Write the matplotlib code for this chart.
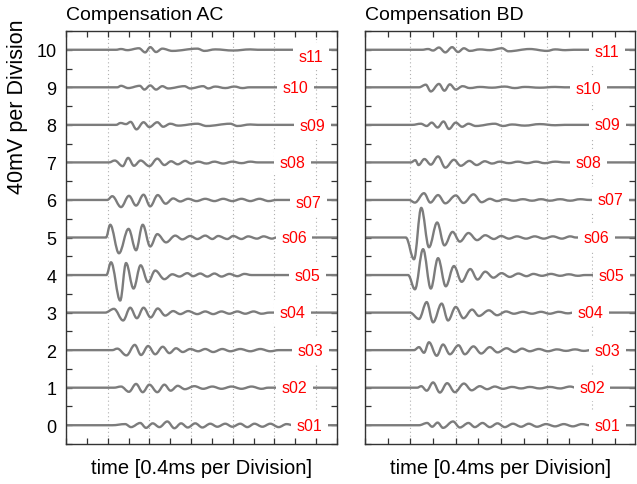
import matplotlib
matplotlib.use('Agg')
import matplotlib.pyplot as plt
from matplotlib.path import Path
from matplotlib.patches import PathPatch
from matplotlib.ticker import MultipleLocator

plt.rcParams['font.family'] = ['Liberation Sans', 'DejaVu Sans']

# turning points of each trace: time in divisions, amplitude in divisions (relative to the trace offset)
# --- Compensation AC ---
ac_s01_t = [1.11, 1.42, 1.56, 1.78, 1.92, 2.08, 2.24, 2.43, 2.60, 2.76, 2.92, 3.10, 3.27, 3.46, 3.63, 3.82, 3.99, 4.18, 4.35, 4.52, 4.71, 4.90, 5.10, 5.29, 5.45]
ac_s01_v = [0, 0.03, -0.05, 0.06, -0.07, 0.05, -0.05, 0.10, -0.08, 0.05, -0.06, 0.05, -0.06, 0.04, -0.04, 0.04, -0.04, 0.04, -0.05, 0.04, -0.04, 0.04, -0.05, 0.03, 0]
ac_s02_t = [1.15, 1.32, 1.51, 1.68, 1.84, 2.00, 2.19, 2.36, 2.51, 2.68, 2.85, 3.08, 3.29, 3.51, 3.73, 3.97, 4.21, 4.45, 4.69, 4.85]
ac_s02_v = [0, 0.03, -0.11, 0.10, -0.12, 0.08, -0.12, 0.08, -0.08, 0.05, -0.04, 0.04, -0.03, 0.03, -0.03, 0.03, -0.03, 0.03, -0.03, 0]
ac_s03_t = [1.11, 1.23, 1.45, 1.65, 1.80, 1.97, 2.14, 2.32, 2.48, 2.64, 2.80, 2.98, 3.17, 3.34, 3.53, 3.75, 3.94, 4.18, 4.42, 4.66, 4.90, 5.10]
ac_s03_v = [0, 0.04, -0.14, 0.14, -0.13, 0.11, -0.11, 0.09, -0.08, 0.05, -0.05, 0.03, -0.03, 0.03, -0.05, 0.03, -0.03, 0.03, -0.03, 0.03, -0.03, 0]
ac_s04_t = [0.94, 1.15, 1.37, 1.54, 1.70, 1.86, 2.03, 2.20, 2.38, 2.57, 2.74, 2.93, 3.15, 3.34, 3.53, 3.73, 3.92, 4.11, 4.30, 4.50, 4.69, 4.88]
ac_s04_v = [0, 0.10, -0.21, 0.13, -0.15, 0.13, -0.13, 0.11, -0.08, 0.04, -0.04, 0.04, -0.04, 0.03, -0.04, 0.03, -0.03, 0.03, -0.03, 0.03, -0.03, 0]
ac_s05_t = [0.97, 1.08, 1.30, 1.44, 1.62, 1.79, 1.97, 2.14, 2.36, 2.55, 2.72, 2.91, 3.05, 3.22, 3.39, 3.56, 3.73, 3.92, 4.11, 4.28, 4.45]
ac_s05_v = [0, 0.34, -0.68, 0.32, -0.36, 0.26, -0.19, 0.12, -0.11, 0.02, -0.04, 0.05, -0.03, 0.04, -0.04, 0.04, -0.04, 0.03, -0.03, 0.03, 0]
ac_s06_t = [0.96, 1.06, 1.27, 1.50, 1.68, 1.84, 2.02, 2.19, 2.40, 2.62, 2.79, 2.98, 3.15, 3.34, 3.51, 3.65, 3.87, 4.01, 4.21, 4.37, 4.58, 4.74, 4.94, 5.05]
ac_s06_v = [0, 0.34, -0.42, 0.23, -0.34, 0.34, -0.24, 0.09, -0.13, 0.05, -0.05, 0.04, -0.04, 0.05, -0.04, 0.04, -0.04, 0.04, -0.04, 0.03, -0.03, 0.03, -0.03, 0]
ac_s07_t = [0.99, 1.11, 1.32, 1.51, 1.68, 1.86, 2.02, 2.20, 2.39, 2.57, 2.74, 2.93, 3.13, 3.34, 3.56, 3.77, 3.99, 4.21, 4.42, 4.64, 4.86, 5.05]
ac_s07_v = [0, 0.10, -0.19, 0.11, -0.15, 0.14, -0.17, 0.13, -0.10, 0.04, -0.04, 0.03, -0.03, 0.03, -0.03, 0.03, -0.03, 0.03, -0.03, 0.03, -0.03, 0]
ac_s08_t = [1.03, 1.17, 1.36, 1.49, 1.63, 1.79, 2.00, 2.19, 2.36, 2.52, 2.68, 2.86, 3.00, 3.17, 3.37, 3.56, 3.77, 3.99, 4.21, 4.42, 4.60]
ac_s08_v = [0, 0.05, -0.10, 0.12, -0.09, 0.05, -0.10, 0.10, -0.07, 0.03, -0.05, 0.04, -0.03, 0.02, -0.03, 0.02, -0.03, 0.02, -0.02, 0.02, 0]
ac_s09_t = [1.20, 1.31, 1.44, 1.55, 1.69, 1.86, 2.00, 2.19, 2.33, 2.50, 2.69, 3.15, 3.37, 3.94, 4.11, 4.42, 4.60]
ac_s09_v = [0, 0.05, 0.02, 0.08, -0.12, 0.07, -0.06, 0.07, -0.05, 0.03, -0.02, 0.03, -0.03, 0.03, -0.03, 0.01, 0]
ac_s10_t = [1.23, 1.32, 1.49, 1.77, 1.88, 2.02, 2.16, 2.31, 2.45, 2.84, 2.98, 3.29, 3.41, 3.58, 3.82, 4.04, 4.23, 4.40]
ac_s10_v = [0, 0.04, -0.02, 0.04, -0.06, 0.05, -0.06, 0.03, -0.03, 0.03, -0.03, 0.03, -0.03, 0.02, -0.02, 0.02, -0.02, 0]
ac_s11_t = [1.20, 1.32, 1.47, 1.75, 1.90, 2.02, 2.16, 2.31, 2.55, 3.15, 3.32, 3.58, 4.01, 4.42, 4.60]
ac_s11_v = [0, 0.02, -0.01, 0.04, -0.07, 0.07, -0.06, 0.03, -0.03, 0.03, -0.03, 0.01, -0.02, 0.01, 0]

# --- Compensation BD ---
bd_s01_t = [1.19, 1.37, 1.48, 1.60, 1.72, 1.94, 2.09, 2.28, 2.42, 2.59, 2.75, 2.92, 3.08, 3.26, 3.44, 3.61, 3.79, 3.99, 4.19, 4.38, 4.58, 4.78, 4.95]
bd_s01_v = [0, 0.06, -0.04, 0.07, -0.07, 0.10, -0.06, 0.06, -0.05, 0.06, -0.05, 0.05, -0.05, 0.04, -0.04, 0.04, -0.04, 0.03, -0.03, 0.03, -0.03, 0.03, 0]
bd_s02_t = [1.15, 1.24, 1.36, 1.50, 1.65, 1.81, 1.98, 2.18, 2.35, 2.53, 2.69, 2.86, 3.04, 3.24, 3.44, 3.63, 3.85, 4.07, 4.30, 4.52, 4.65]
bd_s02_v = [0, 0.04, -0.08, 0.14, -0.13, 0.12, -0.12, 0.11, -0.07, 0.04, -0.04, 0.03, -0.03, 0.02, -0.02, 0.02, -0.02, 0.02, -0.02, 0.03, 0]
bd_s03_t = [1.08, 1.19, 1.30, 1.41, 1.58, 1.72, 1.87, 2.06, 2.20, 2.39, 2.56, 2.75, 2.92, 3.12, 3.30, 3.46, 3.63, 3.83, 4.03, 4.23, 4.43, 4.63, 4.82, 4.98]
bd_s03_v = [0, 0.08, -0.07, 0.21, -0.15, 0.15, -0.11, 0.13, -0.11, 0.10, -0.09, 0.08, -0.06, 0.05, -0.05, 0.04, -0.03, 0.03, -0.03, 0.02, -0.02, 0.02, -0.02, 0]
bd_s04_t = [0.99, 1.19, 1.36, 1.50, 1.69, 1.83, 2.00, 2.17, 2.36, 2.51, 2.73, 2.91, 3.11, 3.28, 3.48, 3.68, 3.88, 4.07, 4.27, 4.47, 4.60]
bd_s04_v = [0, -0.17, 0.28, -0.26, 0.24, -0.21, 0.15, -0.15, 0.08, -0.09, 0.06, -0.07, 0.03, -0.03, 0.02, -0.03, 0.02, -0.03, 0.02, -0.02, 0]
bd_s05_t = [0.95, 1.10, 1.28, 1.45, 1.61, 1.78, 1.96, 2.13, 2.32, 2.48, 2.65, 2.83, 3.01, 3.19, 3.38, 3.56, 3.71, 3.90, 4.10, 4.30, 4.49, 4.69, 4.85]
bd_s05_v = [0, -0.38, 0.69, -0.36, 0.45, -0.30, 0.24, -0.18, 0.16, -0.12, 0.09, -0.07, 0.05, -0.05, 0.04, -0.03, 0.03, -0.02, 0.03, -0.02, 0.02, -0.02, 0]
bd_s06_t = [0.90, 1.08, 1.24, 1.41, 1.59, 1.75, 1.93, 2.09, 2.28, 2.47, 2.65, 2.84, 3.00, 3.17, 3.35, 3.55, 3.74, 3.94, 4.14, 4.34, 4.52, 4.65]
bd_s06_v = [0, -0.58, 0.79, -0.26, 0.40, -0.21, 0.15, -0.11, 0.12, -0.07, 0.06, -0.04, 0.04, -0.03, 0.03, -0.03, 0.03, -0.03, 0.03, -0.03, 0.03, 0]
bd_s07_t = [0.97, 1.10, 1.30, 1.44, 1.61, 1.77, 2.00, 2.17, 2.39, 2.57, 2.75, 2.91, 3.08, 3.28, 3.48, 3.68, 3.88, 4.07, 4.30, 4.52, 4.74, 4.95]
bd_s07_v = [0, -0.07, 0.18, -0.07, 0.13, -0.09, 0.12, -0.08, 0.15, -0.06, 0.03, -0.03, 0.02, -0.02, 0.02, -0.02, 0.02, -0.02, 0.02, -0.02, 0.02, 0]
bd_s08_t = [1.01, 1.11, 1.18, 1.31, 1.45, 1.61, 1.77, 1.96, 2.11, 2.30, 2.46, 2.64, 2.80, 2.97, 3.17, 3.37, 3.57, 3.77, 3.96, 4.19, 4.40]
bd_s08_v = [0, 0.06, -0.07, 0.09, -0.06, 0.16, -0.14, 0.07, -0.09, 0.04, -0.07, 0.03, -0.03, 0.02, -0.02, 0.02, -0.02, 0.02, -0.02, 0.02, 0]
bd_s09_t = [1.04, 1.23, 1.36, 1.47, 1.60, 1.73, 1.85, 2.00, 2.14, 2.28, 2.44, 2.86, 3.04, 3.24, 3.52, 3.85, 4.19, 4.40]
bd_s09_v = [0, 0.03, -0.03, 0.06, -0.07, 0.09, -0.11, 0.06, -0.05, 0.03, -0.03, 0.03, -0.03, 0.01, -0.02, 0.02, -0.01, 0]
bd_s10_t = [1.19, 1.34, 1.45, 1.63, 1.75, 1.87, 2.00, 2.15, 2.31, 2.53, 2.80, 3.08, 3.30, 3.52, 3.85, 4.19, 4.40]
bd_s10_v = [0, 0.07, -0.11, 0.09, -0.09, 0.08, -0.06, 0.03, -0.02, 0.01, -0.01, 0.02, -0.02, 0.01, -0.01, 0.01, 0]
bd_s11_t = [1.26, 1.39, 1.50, 1.63, 1.77, 1.92, 2.05, 2.18, 2.31, 2.53, 2.75, 3.02, 3.16, 3.63, 4.01, 4.19, 4.41, 4.60]
bd_s11_v = [0, 0.02, -0.02, 0.06, -0.07, 0.07, -0.06, 0.04, -0.03, 0.01, -0.01, 0.04, -0.04, 0.02, -0.03, 0.01, -0.01, 0]

names = ['s01', 's02', 's03', 's04', 's05', 's06', 's07', 's08', 's09', 's10', 's11']
offsets = [0, 1, 2, 3, 4, 5, 6, 7, 8, 9, 10]

ac_traces = [(ac_s01_t, ac_s01_v), (ac_s02_t, ac_s02_v), (ac_s03_t, ac_s03_v), (ac_s04_t, ac_s04_v),
             (ac_s05_t, ac_s05_v), (ac_s06_t, ac_s06_v), (ac_s07_t, ac_s07_v), (ac_s08_t, ac_s08_v),
             (ac_s09_t, ac_s09_v), (ac_s10_t, ac_s10_v), (ac_s11_t, ac_s11_v)]
bd_traces = [(bd_s01_t, bd_s01_v), (bd_s02_t, bd_s02_v), (bd_s03_t, bd_s03_v), (bd_s04_t, bd_s04_v),
             (bd_s05_t, bd_s05_v), (bd_s06_t, bd_s06_v), (bd_s07_t, bd_s07_v), (bd_s08_t, bd_s08_v),
             (bd_s09_t, bd_s09_v), (bd_s10_t, bd_s10_v), (bd_s11_t, bd_s11_v)]

# label placement (layout only)
ac_label_x = [5.53, 5.18, 5.55, 5.13, 5.49, 5.16, 5.50, 5.13, 5.60, 5.19, 5.58]
ac_label_dy = [0, 0, 0, 0, 0, 0, -0.07, 0, -0.03, 0, -0.17]
bd_label_x = [5.07, 4.72, 5.07, 4.68, 5.14, 4.82, 5.12, 4.65, 5.07, 4.65, 5.07]
bd_label_dy = [0, 0, 0, 0, 0, 0, 0, 0, 0, -0.03, -0.05]

traceColor = '#7c7c7c'
frameColor = '#333333'


def tracePath(t, v, off, xmax):
    # smooth curve through the turning points, flat tangents at each one
    ts = [0] + t + [xmax]
    ys = [off] + [off + y for y in v] + [off]
    verts = [(ts[0], ys[0])]
    codes = [Path.MOVETO]
    for i in range(1, len(ts)):
        dt = ts[i] - ts[i - 1]
        verts += [(ts[i - 1] + 0.364 * dt, ys[i - 1]), (ts[i] - 0.364 * dt, ys[i]), (ts[i], ys[i])]
        codes += [Path.CURVE4] * 3
    return Path(verts, codes)


def drawPanel(ax, traces, labelX, labelDy, xmax, title):
    for name, off, (t, v), lx, dy in zip(names, offsets, traces, labelX, labelDy):
        ax.add_patch(PathPatch(tracePath(t, v, off, xmax), fill=False, ec=traceColor,
                               lw=1.7, zorder=2, joinstyle='round'))
        ax.text(lx, off + dy, name, color='red', fontsize=11.5, ha='left', va='center',
                bbox=dict(boxstyle='square,pad=0.35', fc='white', ec='none'), zorder=3)

    ax.set_xlim(0, xmax)
    ax.set_ylim(-0.5, 10.5)
    ax.xaxis.set_major_locator(MultipleLocator(1))
    ax.xaxis.set_minor_locator(MultipleLocator(0.5))
    ax.yaxis.set_major_locator(MultipleLocator(1))
    ax.yaxis.set_minor_locator(MultipleLocator(0.5))
    ax.tick_params(which='both', direction='in', top=True, right=True, length=4.5,
                   width=0.9, color=frameColor, labelbottom=False, labelsize=13, pad=7)
    ax.grid(axis='x', which='major', linestyle=(0, (1, 2.5)), color='#b0b0b0', lw=0.8, zorder=1)
    for s in ax.spines.values():
        s.set_color(frameColor)
        s.set_linewidth(1.0)
    ax.set_title(title, loc='left', fontsize=14, pad=9)
    ax.set_xlabel('time [0.4ms per Division]', fontsize=14.5, labelpad=10)


fig = plt.figure(figsize=(6.37, 4.85), dpi=100)
axL = fig.add_axes([66 / 637, 1 - 445 / 485, 271 / 637, 413 / 485])
axR = fig.add_axes([365 / 637, 1 - 445 / 485, 270 / 637, 413 / 485])

drawPanel(axL, ac_traces, ac_label_x, ac_label_dy, 6.5, 'Compensation AC')
drawPanel(axR, bd_traces, bd_label_x, bd_label_dy, 5.95, 'Compensation BD')

axL.set_ylabel('40mV per Division', fontsize=15.5)
axL.yaxis.set_label_coords(-0.14, 0.818)
axR.tick_params(labelleft=False)

fig.savefig('out.png', dpi=100)
